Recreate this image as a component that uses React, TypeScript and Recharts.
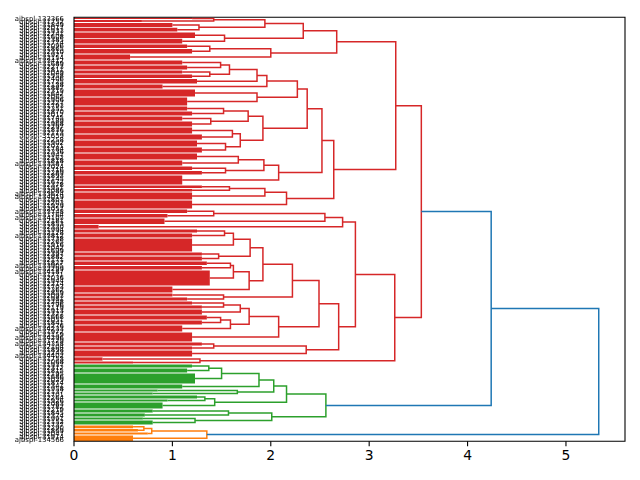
import React from 'react';
import { LineChart, Line, XAxis, YAxis, ReferenceArea } from 'recharts';

// A tree node is either a leaf cluster [span, mergeHeight] (a dense run of leaves
// merged below mergeHeight) or a link [height, upperChild, lowerChild].
type Leaf = [number, number];
type Link = [number, Tree, Tree];
type Tree = Leaf | Link;

const RED = '#d62728';
const GREEN = '#2ca02c';
const ORANGE = '#ff7f0e';
const BLUE = '#1f77b4';

const X_MAX = 5.6;
const X_TICKS = [0, 1, 2, 3, 4, 5];

// ---- red cluster ----
const e1: Tree = [1.42, [2.2, 1.2], [3.0, 0.69]];
const e2: Tree = [1.27, [4.8, 1.0], [4.7, 1.05]];
const e: Tree = [1.94, e1, e2];
const d2: Tree = [1.53, [6.3, 1.23], [5.7, 1.1]];
const d: Tree = [2.33, e, d2];
const c3: Tree = [1.38, [4.5, 1.15], [5.5, 1.2]];
const c2: Tree = [2.0, c3, [6, 0.57]];
const c: Tree = [2.67, d, c2];

const j1c: Tree = [1.49, [5, 1.1], [5, 1.15]];
const j1d: Tree = [1.38, [4, 1.1], [4.5, 1.2]];
const j1b: Tree = [1.58, j1c, j1d];
const j1a: Tree = [1.86, j1b, [5.5, 1.25]];
const j1: Tree = [1.96, j1a, [5, 0.9]];
const j2: Tree = [1.86, [8, 1.23], [9, 1.15]];
const j: Tree = [2.27, j1, j2];
const k1a: Tree = [1.52, [5, 1.15], [5, 1.2]];
const k1b: Tree = [1.39, [5, 1.1], [6, 1.2]];
const k1: Tree = [1.77, k1a, k1b];
const k2a: Tree = [1.61, [7, 1.2], [6, 1.3]];
const k2b: Tree = [1.54, [7, 1.25], [6, 1.3]];
const k2: Tree = [1.69, k2a, k2b];
const k: Tree = [1.92, k1, k2];
const hNode: Tree = [2.37, j, k];
const i1a: Tree = [1.67, [7, 1.25], [6, 1.1]];
const i1b: Tree = [1.54, [4.5, 1.2], [4.5, 1.3]];
const i1: Tree = [1.93, i1a, i1b];
const iNode: Tree = [2.08, i1, [10, 1.1]];
const gNode: Tree = [2.52, hNode, iNode];
const l1a: Tree = [1.58, [3.5, 1.3], [3.5, 1.2]];
const l1: Tree = [1.94, l1a, [8, 1.2]];
const lNode: Tree = [2.16, l1, [9, 1.2]];
const f: Tree = [2.64, gNode, lNode];
const b: Tree = [3.27, c, f];

const m1: Tree = [1.42, [4.5, 1.15], [4.5, 0.95]];
const m: Tree = [2.55, m1, [6.5, 0.92]];
const n: Tree = [2.73, m, [4.5, 0.25]];
const w1a: Tree = [1.53, [4, 1.25], [5, 1.2]];
const w1: Tree = [1.62, w1a, [14, 1.2]];
const w2: Tree = [1.47, [4, 1.3], [5, 1.3]];
const w: Tree = [1.79, w1, w2];
const x1a: Tree = [1.59, [4.5, 1.35], [4.5, 1.3]];
const x1: Tree = [1.62, x1a, [16, 1.38]];
const xNode: Tree = [1.78, x1, [7, 1.0]];
const v: Tree = [1.92, w, xNode];
const t2: Tree = [1.52, [4, 1.0], [4, 1.15]];
const t: Tree = [2.22, v, t2];
const u1c: Tree = [1.52, [4, 1.2], [4, 1.3]];
const u1a: Tree = [1.69, u1c, [6, 1.3]];
const u1d: Tree = [1.49, [5, 1.35], [5, 1.3]];
const u1b: Tree = [1.59, u1d, [7, 1.1]];
const u1: Tree = [1.78, u1a, u1b];
const u: Tree = [2.08, u1, [10, 1.2]];
const r: Tree = [2.49, t, u];
const s1: Tree = [1.42, [4, 1.3], [4, 1.2]];
const s: Tree = [2.36, s1, [7, 1.2]];
const q: Tree = [2.69, r, s];
const o: Tree = [2.86, n, q];
const p2: Tree = [1.28, [4, 0.29], [3, 0.6]];
const p: Tree = [3.26, o, p2];
const redCluster: Tree = [3.53, b, p];

// ---- green cluster ----
const g8: Tree = [1.37, [4, 1.2], [5, 1.15]];
const g7: Tree = [1.5, g8, [11, 1.23]];
const g5: Tree = [1.88, g7, [5, 1.1]];
const g6: Tree = [1.66, [3, 0.85], [3, 0.8]];
const g3: Tree = [2.03, g5, g6];
const g9: Tree = [1.33, [4, 1.25], [3, 0.95]];
const g4: Tree = [1.43, g9, [7, 0.9]];
const g1: Tree = [2.16, g3, g4];
const g10: Tree = [1.57, [4, 0.8], [4, 0.72]];
const g11: Tree = [1.23, [3, 0.7], [5, 0.8]];
const g2: Tree = [2.01, g10, g11];
const greenCluster: Tree = [2.56, g1, g2];

// ---- orange cluster ----
const o2: Tree = [0.71, [3.7, 0.6], [3.3, 0.65]];
const o1: Tree = [0.79, o2, [3, 0.75]];
const orangeCluster: Tree = [1.35, o1, [6.3, 0.6]];

// ---- top links ----
const root: Tree = [5.333, [4.24, redCluster, greenCluster], orangeCluster];

const clusterColors = new Map<Tree, string>([
  [redCluster, RED],
  [greenCluster, GREEN],
  [orangeCluster, ORANGE],
]);

// leaf labels, top to bottom
const leafIds = [
  133366, 31752, 31849, 32017, 31933, 32241, 31608, 32385, 31774, 32096,
  31865, 32310, 31927, 32154, 133412, 31689, 32273, 31811, 32049, 31958,
  32406, 31725, 32138, 31887, 32319, 31642, 32065, 31906, 32227, 31793,
  32351, 31870, 32012, 31745, 32189, 31968, 32297, 31836, 32113, 31659,
  32258, 31902, 32071, 31784, 32336, 31947, 32162, 31818, 133587, 32024,
  31716, 32289, 31893, 32145, 31672, 32378, 31951, 32086, 133624, 134019,
  31807, 32203, 31929, 32057, 133748, 31764, 134105, 32181, 31853, 32330,
  31994, 32128, 133812, 31738, 32265, 31916, 32042, 31699, 32397, 31882,
  32171, 31827, 133905, 32299, 134187, 31771, 32036, 31944, 32214, 31703,
  32362, 31859, 32093, 31981, 32248, 31796, 32119, 31913, 32327, 31668,
  32051, 31841, 32276, 134233, 31972, 32159, 134296, 31729, 134358, 32104,
  31898, 32243, 134402, 31753, 32068, 31937, 32312, 31815, 32195, 31686,
  32029, 31874, 32341, 31958, 32137, 31701, 32264, 31926, 32083, 31782,
  32219, 31845, 32374, 31991, 32152, 31737, 32290, 31869, 32047, 31914,
  134566,
];
const leafLabels = leafIds.map((id) => `ajbspl-${id}`);

type Pt = { x: number; y: number | null };
type Block = { y1: number; y2: number; h: number; color: string };

function buildDendrogram(tree: Tree) {
  const blocks: Block[] = [];
  const links: Record<string, Pt[]> = { [RED]: [], [GREEN]: [], [ORANGE]: [], [BLUE]: [] };
  const place = (node: Tree, inherited: string, start: number): { y: number; h: number; end: number } => {
    const color = clusterColors.get(node) ?? inherited;
    if (node.length === 2) {
      const [span, h] = node as Leaf;
      blocks.push({ y1: start, y2: start + span, h, color });
      return { y: start + span / 2, h, end: start + span };
    }
    const [h, upper, lower] = node as Link;
    const A = place(upper, color, start);
    const B = place(lower, color, A.end);
    links[color].push(
      { x: A.h, y: A.y },
      { x: h, y: A.y },
      { x: h, y: B.y },
      { x: B.h, y: B.y },
      { x: B.h, y: null },
    );
    return { y: (A.y + B.y) / 2, h, end: B.end };
  };
  const top = place(tree, BLUE, 0);
  return { blocks, links, total: top.end };
}

const { blocks, links, total } = buildDendrogram(root);
const leafTicks = leafLabels.map((_, i) => ((i + 0.5) * total) / leafLabels.length);
const GAP = 0.4;

// Leaf label, passed through a desaturating filter so the tiny text stays grey.
const LeafTick = (props: any) => {
  const { x, y, index } = props;
  return (
    <g>
      {index === 0 && (
        <defs>
          <filter id="leafGrey" x="-10%" y="-50%" width="120%" height="200%">
            <feColorMatrix type="saturate" values="0" />
          </filter>
        </defs>
      )}
      <g filter="url(#leafGrey)">
        <text
          x={x}
          y={y}
          dy="0.35em"
          textAnchor="end"
          fontSize={6.9}
          fontFamily="DejaVu Sans"
          fill="#000"
        >
          {leafLabels[index]}
        </text>
      </g>
    </g>
  );
};

export default function App() {
  return (
    <div style={{ position: 'absolute', left: 0, top: 0, width: 640, height: 480, background: '#fff' }}>
      <LineChart width={640} height={480} margin={{ top: 17.3, right: 15, bottom: 0, left: 0 }}>
        <XAxis
          type="number"
          dataKey="x"
          domain={[0, X_MAX]}
          ticks={X_TICKS}
          allowDataOverflow
          axisLine={false}
          tickLine={{ stroke: '#000', strokeWidth: 1.1 }}
          tickSize={5}
          tickMargin={4}
          height={38.7}
          tick={{ fill: '#000', fontSize: 13.9, fontFamily: 'DejaVu Sans' }}
        />
        <YAxis
          type="number"
          domain={[0, total]}
          reversed
          allowDataOverflow
          ticks={leafTicks}
          interval={0}
          width={74}
          axisLine={false}
          tickLine={false}
          tickSize={5}
          tickMargin={5}
          tick={<LeafTick />}
        />
        {blocks.map((bk, idx) => (
          <ReferenceArea
            key={`blk-${idx}`}
            x1={0}
            x2={bk.h}
            y1={bk.y1 + GAP}
            y2={bk.y2 - GAP}
            fill={bk.color}
            fillOpacity={1}
            stroke="none"
            ifOverflow="visible"
          />
        ))}
        {[RED, GREEN, ORANGE, BLUE].map((col) => (
          <Line
            key={col}
            data={links[col]}
            dataKey="y"
            stroke={col}
            strokeWidth={1.5}
            dot={false}
            activeDot={false}
            isAnimationActive={false}
          />
        ))}
        <ReferenceArea
          x1={0}
          x2={X_MAX}
          y1={0}
          y2={total}
          fill="none"
          stroke="#000"
          strokeWidth={1.1}
          ifOverflow="visible"
        />
      </LineChart>
    </div>
  );
}
